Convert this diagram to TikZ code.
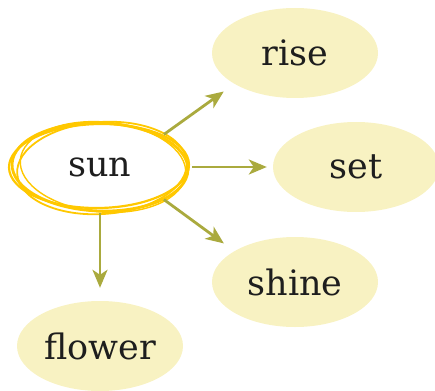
\documentclass[tikz,border=0pt]{standalone}
\usepackage{fontspec}
\setmainfont{DejaVu Serif}
\usetikzlibrary{shapes.geometric,arrows.meta}
\definecolor{leaf}{HTML}{F8F2C2}
\definecolor{olive}{HTML}{AAAA3E}
\definecolor{sunline}{HTML}{FFC800}
\definecolor{ink}{HTML}{1E1E1E}
\begin{document}
\begin{tikzpicture}[x=1pt,y=-1pt,
  idea/.style={ellipse,fill=leaf,minimum width=166pt,minimum height=90pt,inner sep=0pt,text=ink,font=\fontsize{35}{40}\selectfont},
  centre/.style={ellipse,minimum width=180pt,minimum height=92pt,inner sep=0pt,text=ink,font=\fontsize{35}{40}\selectfont},
  arr/.style={draw=olive,line width=2.8pt,-{Stealth[length=18pt,width=15pt,inset=5pt]}},
  sketch/.style={draw=sunline,line width=2.8pt}]
\useasboundingbox (0,0) rectangle (435,390);
\node[centre] (sun) at (100,167) {sun};
\node[idea] (rise) at (295,53) {rise};
\node[idea] (set) at (356,167) {set};
\node[idea] (shine) at (295,282) {shine};
\node[idea] (flower) at (100,346) {flower};
\draw[sketch] (sun.center) ellipse [x radius=88pt, y radius=44pt, rotate=-2];
\draw[sketch,line width=1.8pt] ([shift={(2,1)}]sun.center) ellipse [x radius=85pt, y radius=46pt, rotate=4];
\draw[sketch,line width=2.2pt] ([shift={(-1,-1)}]sun.center) ellipse [x radius=90pt, y radius=42pt, rotate=1];
\draw[sketch,line width=1.4pt] ([shift={(3,0)}]sun.center) ellipse [x radius=83pt, y radius=45pt, rotate=-5];
\draw[arr,shorten >=13pt] (sun.27) -- (rise.207);
\draw[arr,shorten <=2pt,shorten >=6pt] (sun.east) -- (set.west);
\draw[arr,shorten >=13pt] (sun.-27) -- (shine.153);
\draw[arr,shorten >=13pt] (sun.south) -- (flower.north);
\end{tikzpicture}
\end{document}
